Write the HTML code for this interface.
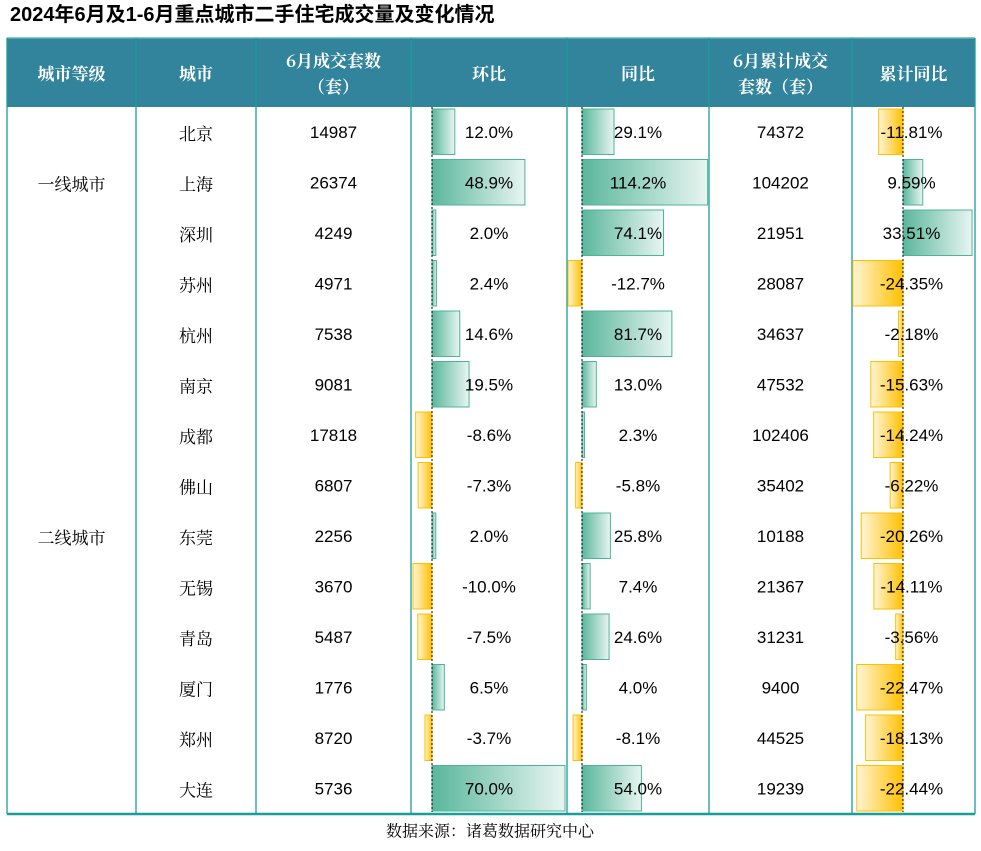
<!DOCTYPE html>
<html><head><meta charset="utf-8"><style>
body{margin:0;width:981px;height:846px;background:#fff;font-family:"Liberation Sans","Noto Sans CJK SC",sans-serif;overflow:hidden}
svg text{dominant-baseline:central}
</style></head><body>
<svg id="chart" width="981" height="846" xmlns="http://www.w3.org/2000/svg">
<defs>
<linearGradient id="gpos" x1="0" x2="1" y1="0" y2="0"><stop offset="0" stop-color="#5ab79c"/><stop offset="1" stop-color="#e8f5f1"/></linearGradient>
<linearGradient id="gneg" x1="0" x2="1" y1="0" y2="0"><stop offset="0" stop-color="#fff5d6"/><stop offset="1" stop-color="#ffc000"/></linearGradient>
</defs>
<text x="10" y="15" font-size="20" font-weight="bold" font-family="'Liberation Sans','Noto Sans CJK SC',sans-serif">2024年6月及1-6月重点城市二手住宅成交量及变化情况</text>
<g id="tbl"></g>
<text x="490" y="830" font-size="16" text-anchor="middle" font-family="'Noto Serif CJK SC',serif">数据来源：诸葛数据研究中心</text>
</svg>
<script>
const cities=["北京","上海","深圳","苏州","杭州","南京","成都","佛山","东莞","无锡","青岛","厦门","郑州","大连"];
const volumes=[14987,26374,4249,4971,7538,9081,17818,6807,2256,3670,5487,1776,8720,5736];
const mom=[12.0,48.9,2.0,2.4,14.6,19.5,-8.6,-7.3,2.0,-10.0,-7.5,6.5,-3.7,70.0];
const yoy=[29.1,114.2,74.1,-12.7,81.7,13.0,2.3,-5.8,25.8,7.4,24.6,4.0,-8.1,54.0];
const cumVolumes=[74372,104202,21951,28087,34637,47532,102406,35402,10188,21367,31231,9400,44525,19239];
const cumYoy=[-11.81,9.59,33.51,-24.35,-2.18,-15.63,-14.24,-6.22,-20.26,-14.11,-3.56,-22.47,-18.13,-22.44];
const tiers=["一线城市","二线城市"];
const tierSpans=[3,11];

const NS="http://www.w3.org/2000/svg";
const g=document.getElementById('tbl');
function el(t,a,p){const e=document.createElementNS(NS,t);for(const k in a)e.setAttribute(k,a[k]);(p||g).appendChild(e);return e;}
const cols=[7,136,256,411,567,709,852,975];
const tblTop=38,hb=107,tblBottom=814,rh=(tblBottom-hb)/cities.length;
const serif="'Noto Serif CJK SC',serif";
const hdr=el('rect',{x:7,y:tblTop,width:968,height:hb-tblTop,fill:'#31849b'});


const heads=[["城市等级"],["城市"],["6月成交套数","（套）"],["环比"],["同比"],["6月累计成交","套数（套）"],["累计同比"]];
heads.forEach((h,i)=>{const cx=(cols[i]+cols[i+1])/2;h.forEach((s,j)=>{const t=el('text',{x:cx,y:(tblTop+hb)/2+(j-(h.length-1)/2)*26,'font-size':17,fill:'#fff','font-weight':'bold','text-anchor':'middle','font-family':serif});t.textContent=s;

});});
el('line',{x1:7,x2:975,y1:tblTop,y2:tblTop,stroke:'#5cb8a8','stroke-width':1.5});
cols.forEach(x=>el('line',{x1:x,x2:x,y1:tblTop,y2:tblBottom,stroke:'#1a9e9a','stroke-width':1.3}));
el('line',{x1:7,x2:975,y1:tblBottom,y2:tblBottom,stroke:'#1a9e9a','stroke-width':2.5});
let r0=0;tierSpans.forEach((n,i)=>{const t=el('text',{x:(cols[0]+cols[1])/2,y:hb+(r0+n/2)*rh,'font-size':17,'text-anchor':'middle','font-family':serif});t.textContent=tiers[i];

r0+=n;});
const barCols=[{d:mom,zero:432,sc:1.9,fmt:v=>v.toFixed(1)+'%',name:'mom-bar'},{d:yoy,zero:582,sc:1.1,fmt:v=>v.toFixed(1)+'%',name:'yoy-bar'},{d:cumYoy,zero:903,sc:2.06,fmt:v=>v.toFixed(2)+'%',name:'cum-yoy-bar'}];
barCols.forEach(bc=>{
  bc.d.forEach((v,i)=>{const y=hb+i*rh+2,w=Math.abs(v)*bc.sc,x=v>=0?bc.zero:bc.zero-w;
    const b=el('rect',{x:x,y:y,width:w,height:rh-5,fill:v>=0?'url(#gpos)':'url(#gneg)',stroke:v>=0?'#4fb39a':'#ffc000','stroke-width':1});
    
    
  });
  el('line',{x1:bc.zero,x2:bc.zero,y1:hb,y2:tblBottom-2,stroke:'#000','stroke-width':1,'stroke-dasharray':'2,2'});
});
cities.forEach((c,i)=>{const cy=hb+(i+0.5)*rh;
  const vals=[[c,1,serif],[volumes[i],2],[barCols[0].fmt(mom[i]),3],[barCols[1].fmt(yoy[i]),4],[cumVolumes[i],5],[barCols[2].fmt(cumYoy[i]),6]];
  vals.forEach(([s,ci,f])=>{const t=el('text',{x:(cols[ci]+cols[ci+1])/2+(ci==6?-2:0),y:cy,'font-size':17,'text-anchor':'middle','font-family':f||"'Liberation Sans','Noto Sans CJK SC',sans-serif"});t.textContent=s;
  
  });
});
</script>
</body></html>
